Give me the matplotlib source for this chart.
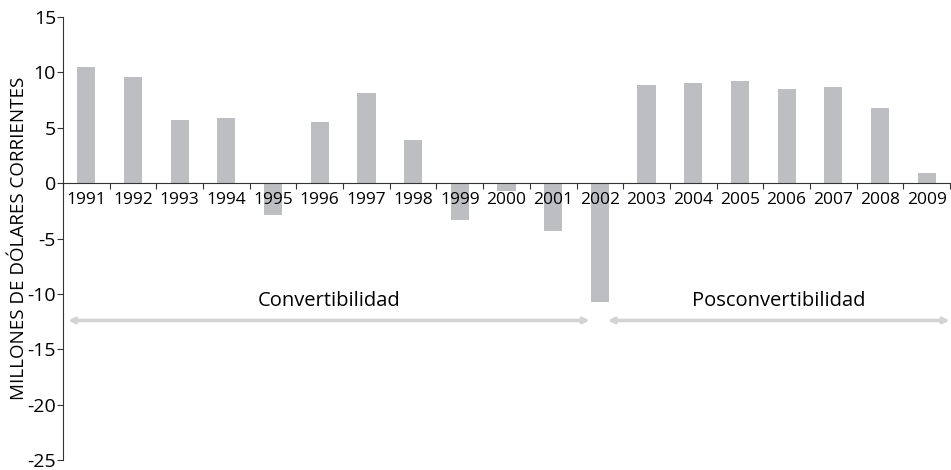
import matplotlib.pyplot as plt
import numpy as np

plt.rcParams['font.family'] = ['Open Sans', 'DejaVu Sans']

anios = ['1991', '1992', '1993', '1994', '1995', '1996', '1997', '1998', '1999', '2000',
         '2001', '2002', '2003', '2004', '2005', '2006', '2007', '2008', '2009']
valores = [10.5, 9.6, 5.7, 5.85, -2.9, 5.5, 8.1, 3.9, -3.3, -0.7,
           -4.3, -10.75, 8.9, 9.0, 9.2, 8.5, 8.7, 6.8, 0.9]
ticks_y = [15, 10, 5, 0, -5, -10, -15, -20, -25]
periodos = ['Convertibilidad', 'Posconvertibilidad']

fig = plt.figure(figsize=(9.51, 4.70), dpi=100)
ax = fig.add_axes([63 / 951, 1 - 460 / 470, 887 / 951, 443 / 470])

x = np.arange(len(anios))
ax.bar(x, valores, width=0.39, color='#bdbec2', zorder=2)

ax.set_xlim(-0.5, len(anios) - 0.5)
ax.set_ylim(-25, 15)
ax.set_yticks(ticks_y)
ax.set_yticklabels([str(t) for t in ticks_y])  # guion simple, como el original
ax.tick_params(axis='y', labelsize=14, length=4, width=0.8, color='#333333', pad=1)

# eje x en y=0, marcas en los bordes de cada año
ax.spines['bottom'].set_position(('data', 0))
ax.spines['bottom'].set_color('#333333')
ax.spines['left'].set_color('#333333')
ax.spines['top'].set_visible(False)
ax.spines['right'].set_visible(False)
ax.set_xticks(np.arange(len(anios) + 1) - 0.5)
ax.set_xticklabels([])
ax.tick_params(axis='x', which='major', length=4, width=0.8, color='#333333')

# etiquetas de años encima de las barras
for xi, a in zip(x, anios):
    ax.text(xi, -1.5, a, ha='center', va='center', fontsize=12.5, zorder=5)

ax.set_ylabel('MILLONES DE DÓLARES CORRIENTES', fontsize=13.5)
ax.yaxis.set_label_coords(-0.04, 0.5)

# flechas de periodos
flechas = [(-0.39, 10.78), (11.17, 18.49)]
for (x0, x1), nombre in zip(flechas, periodos):
    ax.annotate('', xy=(x0, -12.4), xytext=(x1, -12.4),
                arrowprops=dict(arrowstyle='<|-|>', color='#d3d3d3', lw=2.5,
                                mutation_scale=8, shrinkA=0, shrinkB=0))
    ax.text((x0 + x1) / 2, -10.6, nombre, ha='center', va='center', fontsize=14.5)

plt.savefig('out.png', dpi=100)
